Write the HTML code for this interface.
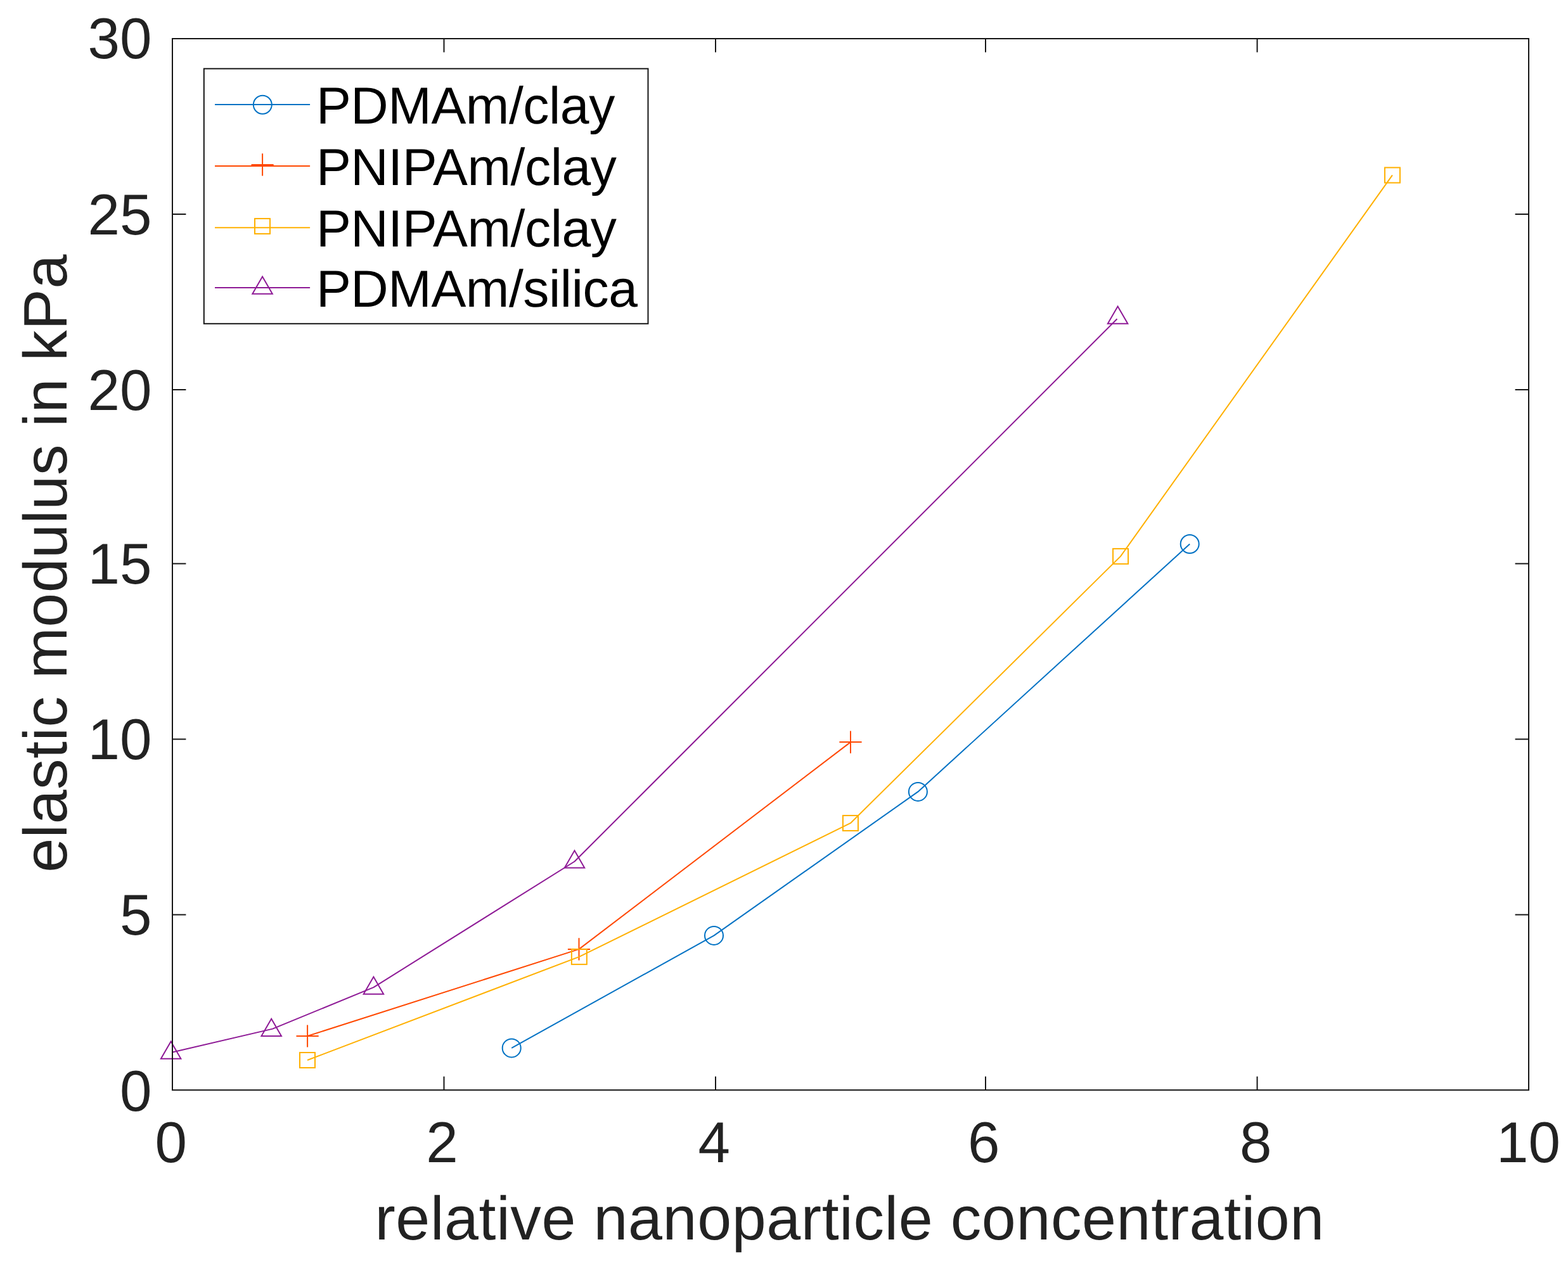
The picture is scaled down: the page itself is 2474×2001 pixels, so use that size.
<!DOCTYPE html>
<html lang="en"><head><meta charset="utf-8"><title>elastic modulus vs relative nanoparticle concentration</title>
<style>
html,body{margin:0;padding:0;background:#fff;}
body{width:2474px;height:2001px;overflow:hidden;}
svg{display:block;position:absolute;left:0;top:0;}
text{font-family:"Liberation Sans",Arial,Helvetica,sans-serif;text-rendering:geometricPrecision;}
.tk{font-size:90.8px;fill:#222222;}
.lb{font-size:97px;fill:#222222;}
.lg{font-size:82.3px;fill:#000;}
.ln{fill:none;stroke-width:2;stroke-linejoin:round;stroke-linecap:butt;}
.mk{fill:none;stroke-width:2;stroke-linejoin:miter;}
</style></head><body>
<svg xmlns="http://www.w3.org/2000/svg" width="2474" height="2001" viewBox="0 0 2474 2001">
<rect x="0" y="0" width="2474" height="2001" fill="#fff"/>
<g id="series-blue">
<polyline class="ln" stroke="#0072C4" points="807.2,1653.9 1126.5,1476.4 1448.4,1249.4 1877.2,858.5"/>
<circle class="mk" stroke="#0072C4" cx="807.2" cy="1653.9" r="14.5"/>
<circle class="mk" stroke="#0072C4" cx="1126.5" cy="1476.4" r="14.5"/>
<circle class="mk" stroke="#0072C4" cx="1448.4" cy="1249.4" r="14.5"/>
<circle class="mk" stroke="#0072C4" cx="1877.2" cy="858.5" r="14.5"/>
</g>
<g id="series-orange">
<polyline class="ln" stroke="#FF4800" points="485.1,1635 913.5,1497.9 1342,1171.1"/>
<path class="mk" stroke="#FF4800" d="M467.5 1635H502.7M485.1 1617.4V1652.6"/>
<path class="mk" stroke="#FF4800" d="M895.9 1497.9H931.1M913.5 1480.3V1515.5"/>
<path class="mk" stroke="#FF4800" d="M1324.4 1171.1H1359.6M1342 1153.5V1188.7"/>
</g>
<g id="series-yellow">
<polyline class="ln" stroke="#FFB000" points="485,1673 913.85,1509.85 1341.95,1298.95 1768.05,877.9 2196.9,276.45"/>
<rect class="mk" stroke="#FFB000" x="473" y="1661" width="24" height="24"/>
<rect class="mk" stroke="#FFB000" x="901.85" y="1497.85" width="24" height="24"/>
<rect class="mk" stroke="#FFB000" x="1329.95" y="1286.95" width="24" height="24"/>
<rect class="mk" stroke="#FFB000" x="1756.05" y="865.9" width="24" height="24"/>
<rect class="mk" stroke="#FFB000" x="2184.9" y="264.45" width="24" height="24"/>
</g>
<g id="series-purple">
<polyline class="ln" stroke="#8E1A96" points="272,1660.5 430,1623.6 589.4,1558.1 906.5,1359.5 1762.5,503.3"/>
<polygon class="mk" stroke="#8E1A96" points="253.9,1670.7 285.4,1670.7 269.65,1643.42"/>
<polygon class="mk" stroke="#8E1A96" points="412.45,1635 443.95,1635 428.2,1607.72"/>
<polygon class="mk" stroke="#8E1A96" points="573.65,1568.75 605.15,1568.75 589.4,1541.47"/>
<polygon class="mk" stroke="#8E1A96" points="890.75,1369.6 922.25,1369.6 906.5,1342.32"/>
<polygon class="mk" stroke="#8E1A96" points="1747.85,510.7 1779.35,510.7 1763.6,483.42"/>
</g>
<g id="axes" fill="none" stroke="#161616" stroke-width="2" stroke-linecap="butt">
<rect x="272" y="61" width="2140" height="1659.2"/>
<path d="M700.5 1720.2v-21.4M700.5 61v21.4M1129 1720.2v-21.4M1129 61v21.4M1555 1720.2v-21.4M1555 61v21.4M1983.6 1720.2v-21.4M1983.6 61v21.4M272 1443.4h21.4M2412 1443.4h-21.4M272 1166.5h21.4M2412 1166.5h-21.4M272 889.6h21.4M2412 889.6h-21.4M272 615h21.4M2412 615h-21.4M272 338h21.4M2412 338h-21.4"/>
</g>
<g id="yticks" class="tk" text-anchor="end">
<text x="239.6" y="1752.8">0</text>
<text x="239.6" y="1475.4">5</text>
<text x="239.6" y="1198.2">10</text>
<text x="239.6" y="921">15</text>
<text x="239.6" y="646.7">20</text>
<text x="239.6" y="369.7">25</text>
<text x="239.6" y="91.8">30</text>
</g>
<g id="xticks" class="tk" text-anchor="middle">
<text x="269.7" y="1834.2">0</text>
<text x="697.4" y="1834.2">2</text>
<text x="1126.8" y="1834.2">4</text>
<text x="1552.3" y="1834.2">6</text>
<text x="1981.3" y="1834.2">8</text>
<text x="2411.4" y="1834.2">10</text>
</g>
<text id="xlabel" class="lb" text-anchor="middle" x="1340.7" y="1955.9" letter-spacing="0.6">relative nanoparticle concentration</text>
<text id="ylabel" class="lb" text-anchor="middle" transform="translate(105.2 889) rotate(-90)" letter-spacing="0.48">elastic modulus in kPa</text>
<g id="legend">
<rect x="321.8" y="108.4" width="700.7" height="402.4" fill="#fff" stroke="#161616" stroke-width="2"/>
<path class="ln" stroke="#0072C4" d="M339 165H489.1"/>
<circle class="mk" stroke="#0072C4" cx="414.3" cy="165.3" r="14.5"/>
<text class="lg" x="498.9" y="195" letter-spacing="-0.46">PDMAm/clay</text>
<path class="ln" stroke="#FF4800" d="M339 262.1H489.1"/>
<path class="mk" stroke="#FF4800" d="M396.5 259.95H431.7M414.1 242.35V277.55"/>
<text class="lg" x="498.9" y="291.9" letter-spacing="-0.46">PNIPAm/clay</text>
<path class="ln" stroke="#FFB000" d="M339 359.2H489.1"/>
<rect class="mk" stroke="#FFB000" x="402" y="344.95" width="24" height="24"/>
<text class="lg" x="498.9" y="388.75" letter-spacing="-0.46">PNIPAm/clay</text>
<path class="ln" stroke="#8E1A96" d="M339 454H489.1"/>
<polygon class="mk" stroke="#8E1A96" points="398.3,463.8 429.8,463.8 414.05,436.52"/>
<text class="lg" x="498.9" y="483.6" letter-spacing="-0.46">PDMAm/silica</text>
</g>

</svg>
</body></html>
